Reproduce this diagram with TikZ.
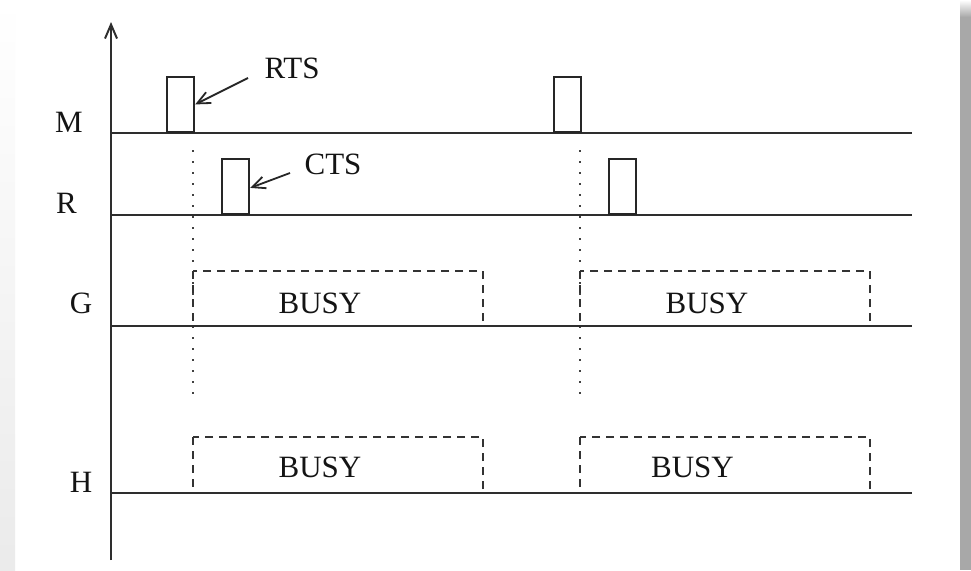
\documentclass[tikz,border=0pt]{standalone}
\usepackage{fontspec}
\setmainfont{Liberation Serif}
\usetikzlibrary{arrows.meta}
\begin{document}
\begin{tikzpicture}[x=1pt,y=-1pt,
  lbl/.style={inner sep=0pt,anchor=base,font=\fontsize{31}{36}\selectfont,text=black!92},
  baseline/.style={line width=2.2pt,draw=black!82},
  pulse/.style={draw=black!85,line width=2.2pt,fill=white,inner sep=0pt,anchor=south west,minimum width=27pt,minimum height=55pt},
  busybox/.style={draw=black!80,line width=2.2pt,dash pattern=on 8pt off 6pt},
  marker/.style={draw=black!75,line width=1.8pt,dash pattern=on 1.8pt off 9.2pt},
  ptr/.style={line width=1.8pt,draw=black!85,-{Straight Barb[length=13pt,width=12pt,line width=1.8pt]}}]
\useasboundingbox (0,0) rectangle (971,570);
\fill[white] (0,0) rectangle (971,570);
% page shadow at the edges
\shade[top color=white,bottom color=black!8] (0,0) rectangle (15,570);
\fill[black!34] (960,17) rectangle (971,570);
\shade[top color=white,bottom color=black!34] (960,0) rectangle (971,17);

% time axis
\coordinate (axbot) at (111,560);
\coordinate (axtop) at (111,22);
\draw[line width=2.2pt,draw=black!82,-{Straight Barb[length=14pt,width=12pt,line width=2pt]}] (axbot) -- (axtop);

% station lines
\coordinate (m0) at (111,133); \coordinate (m1) at (912,133);
\coordinate (r0) at (111,215); \coordinate (r1) at (912,215);
\coordinate (g0) at (111,326); \coordinate (g1) at (912,326);
\coordinate (h0) at (111,493); \coordinate (h1) at (912,493);

% vertical timing markers
\coordinate (d1a) at (193,150); \coordinate (d1b) at (193,402);
\coordinate (d2a) at (580,150); \coordinate (d2b) at (580,402);
\draw[marker] (d1a) -- (d1b);
\draw[marker] (d2a) -- (d2b);

% busy periods
\draw[busybox] (193,271) rectangle (483,326);
\draw[busybox] (580,271) rectangle (870,326);
\draw[busybox] (193,437) rectangle (483,493);
\draw[busybox] (580,437) rectangle (870,493);

\draw[baseline] (m0) -- (m1);
\draw[baseline] (r0) -- (r1);
\draw[baseline] (g0) -- (g1);
\draw[baseline] (h0) -- (h1);

% RTS / CTS pulses
\node[pulse] (rts) at (166,133) {};
\node[pulse] (cts) at (221,215) {};
\node[pulse] (rts2) at (553,133) {};
\node[pulse] (cts2) at (608,215) {};

% station labels
\node[lbl] (lm) at (69,132) {M};
\node[lbl] (lr) at (66.5,213) {R};
\node[lbl] (lg) at (81,313) {G};
\node[lbl] (lh) at (81,492) {H};

% frame labels
\node[lbl] (lrts) at (292,78) {RTS};
\node[lbl] (lcts) at (333,174) {CTS};
\coordinate (rtsfrom) at (248,78);
\coordinate (ctsfrom) at (290,173);
\draw[ptr] (rtsfrom) -- (rts.east);
\draw[ptr] (ctsfrom) -- ([yshift=-1.5pt]cts.east);

% busy labels
\node[lbl] (bg1) at (320,313) {BUSY};
\node[lbl] (bg2) at (707,313) {BUSY};
\node[lbl] (bh1) at (320,477) {BUSY};
\node[lbl] (bh2) at (692.5,477) {BUSY};
\end{tikzpicture}
\end{document}
